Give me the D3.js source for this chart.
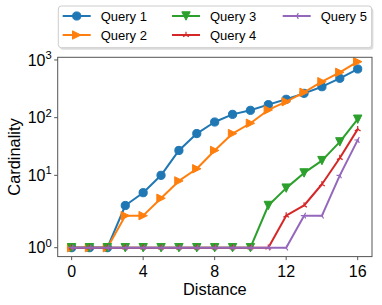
<!DOCTYPE html>
<html>
<head>
<meta charset="utf-8">
<script src="https://cdn.jsdelivr.net/npm/d3@7"></script>
<style>
html,body{margin:0;padding:0;background:#fff;}
svg{display:block;}
text{font-family:"Liberation Sans",Arial,Helvetica,sans-serif;fill:#000;}
</style>
</head>
<body>
<svg id="chart" width="382" height="305"></svg>
<script>
const distances = [0,1,2,3,4,5,6,7,8,9,10,11,12,13,14,15,16];
const seriesNames = ["Query 1","Query 2","Query 3","Query 4","Query 5"];
const query1 = [1,1,1,3,5,10,27,53,84,114,134,168,208,264,344,481,698];
const query2 = [1,1,1,2,2,4,8,13,27,53,80,136,189,275,420,611,934];
const query3 = [1,1,1,1,1,1,1,1,1,1,1,3,6,11,18,38,94];
const query4 = [1,1,1,1,1,1,1,1,1,1,1,1,2,3,7,20,63];
const query5 = [1,1,1,1,1,1,1,1,1,1,1,1,1,2,2,10,41];
const colors = ["#1f77b4","#ff7f0e","#2ca02c","#d62728","#9467bd"];
const markers = ["circle","triRight","triDown","triUp","triLeft"];
const xTicks = [0,4,8,12,16];
const yTicks = [1,10,100,1000];
const yTickExp = ["0","1","2","3"];

const seriesValues = [query1,query2,query3,query4,query5];

const svg = d3.select("#chart");
const pLeft = 57.7, pRight = 372, pTop = 57.3, pBottom = 256.6;

// matplotlib-style symlog transform (linthresh 2, linscale 1)
const linthresh = 2, linscaleAdj = 1/(1-1/10);
function symT(v){
  const a = Math.abs(v);
  if (a <= linthresh) return v*linscaleAdj;
  return Math.sign(v)*linthresh*(linscaleAdj + Math.log10(a/linthresh));
}
const x = d3.scaleLinear().domain([-0.78,16.8]).range([pLeft,pRight]);
const yLin = d3.scaleLinear().domain([0.802,7.713]).range([pBottom,pTop]);
const y = v => yLin(symT(v));

const spineColor = "#555";

const line = d3.line().x((d,i)=>x(distances[i])).y(d=>y(d));
function markerPath(type, r){
  const p = d3.path();
  if (type==="circle"){ p.arc(0,0,r,0,2*Math.PI); p.closePath(); }
  else if (type==="triRight"){ p.moveTo(r,0); p.lineTo(-r,-r); p.lineTo(-r,r); p.closePath(); }
  else if (type==="triDown"){ p.moveTo(0,r); p.lineTo(-r,-r); p.lineTo(r,-r); p.closePath(); }
  else if (type==="triUp"){ p.moveTo(0,0); p.lineTo(0,-r); p.moveTo(0,0); p.lineTo(-0.866*r,0.5*r); p.moveTo(0,0); p.lineTo(0.866*r,0.5*r); }
  else if (type==="triLeft"){ p.moveTo(0,0); p.lineTo(-r,0); p.moveTo(0,0); p.lineTo(0.5*r,-0.866*r); p.moveTo(0,0); p.lineTo(0.5*r,0.866*r); }
  return p.toString();
}
function markerSize(type){ return type==="circle"?4.1:(type==="triRight"||type==="triDown"?4.2:3.3); }
function drawMarker(g, type, color, cx, cy){
  const filled = (type==="circle"||type==="triRight"||type==="triDown");
  g.append("path").attr("d", markerPath(type,markerSize(type)))
    .attr("transform",`translate(${cx},${cy})`)
    .attr("fill", filled?color:"none")
    .attr("stroke", color).attr("stroke-width", filled?1:1.2);
}

const inner = svg.append("g");
seriesValues.forEach((vals,si)=>{
  const g = inner.append("g");
  g.append("path").datum(vals).attr("d",line).attr("fill","none")
    .attr("stroke",colors[si]).attr("stroke-width",2).attr("stroke-linejoin","round").attr("stroke-linecap","square");
  vals.forEach((v,i)=>drawMarker(g, markers[si], colors[si], x(distances[i]), y(v)));
});

// spines
svg.append("rect").attr("x",pLeft).attr("y",pTop).attr("width",pRight-pLeft).attr("height",pBottom-pTop)
  .attr("fill","none").attr("stroke",spineColor).attr("stroke-width",1);

// x ticks
const xg = svg.append("g");
xTicks.forEach(t=>{
  xg.append("line").attr("x1",x(t)).attr("x2",x(t)).attr("y1",pBottom).attr("y2",pBottom+3.5)
    .attr("stroke",spineColor).attr("stroke-width",1);
  xg.append("text").attr("x",x(t)).attr("y",276.7).attr("text-anchor","middle")
    .attr("font-size","16px").text(t);
});
// y ticks
const yg = svg.append("g");
yTicks.forEach((t,i)=>{
  const py = y(t);
  yg.append("line").attr("x1",pLeft-3.5).attr("x2",pLeft).attr("y1",py).attr("y2",py)
    .attr("stroke",spineColor).attr("stroke-width",1);
  const tx = yg.append("text").attr("x",51.7).attr("y",py+5.6).attr("text-anchor","end").attr("font-size","16px");
  tx.append("tspan").text("10");
  tx.append("tspan").attr("dy",-6.5).attr("font-size","11.2px").text(yTickExp[i]);
});

// axis labels
svg.append("text").attr("x",(pLeft+pRight)/2).attr("y",294.5).attr("text-anchor","middle")
  .attr("font-size","16.4px").text("Distance");
svg.append("text").attr("transform",`translate(20,${(pTop+pBottom)/2}) rotate(-90)`)
  .attr("text-anchor","middle").attr("font-size","16.4px").text("Cardinality");

// legend
const lg = svg.append("g");
lg.append("rect").attr("x",60).attr("y",8).attr("width",313.4).attr("height",41.7).attr("rx",3)
  .attr("fill","#bbb").attr("opacity",0.5);
lg.append("rect").attr("x",58.3).attr("y",6).attr("width",313.4).attr("height",41.7).attr("rx",3)
  .attr("fill","#fff").attr("stroke","#ccc").attr("stroke-width",1);
const colX = [62.7,172,282.7];
const rowY = [16,35];
seriesNames.forEach((name,i)=>{
  const c = Math.floor(i/2), r = i%2;
  const lx = colX[c], ly = rowY[r];
  lg.append("line").attr("x1",lx).attr("x2",lx+28).attr("y1",ly).attr("y2",ly)
    .attr("stroke",colors[i]).attr("stroke-width",2);
  drawMarker(lg, markers[i], colors[i], lx+14, ly);
  lg.append("text").attr("x",lx+38).attr("y",ly+4.6).attr("font-size","13px").text(name);
});
</script>
</body>
</html>
